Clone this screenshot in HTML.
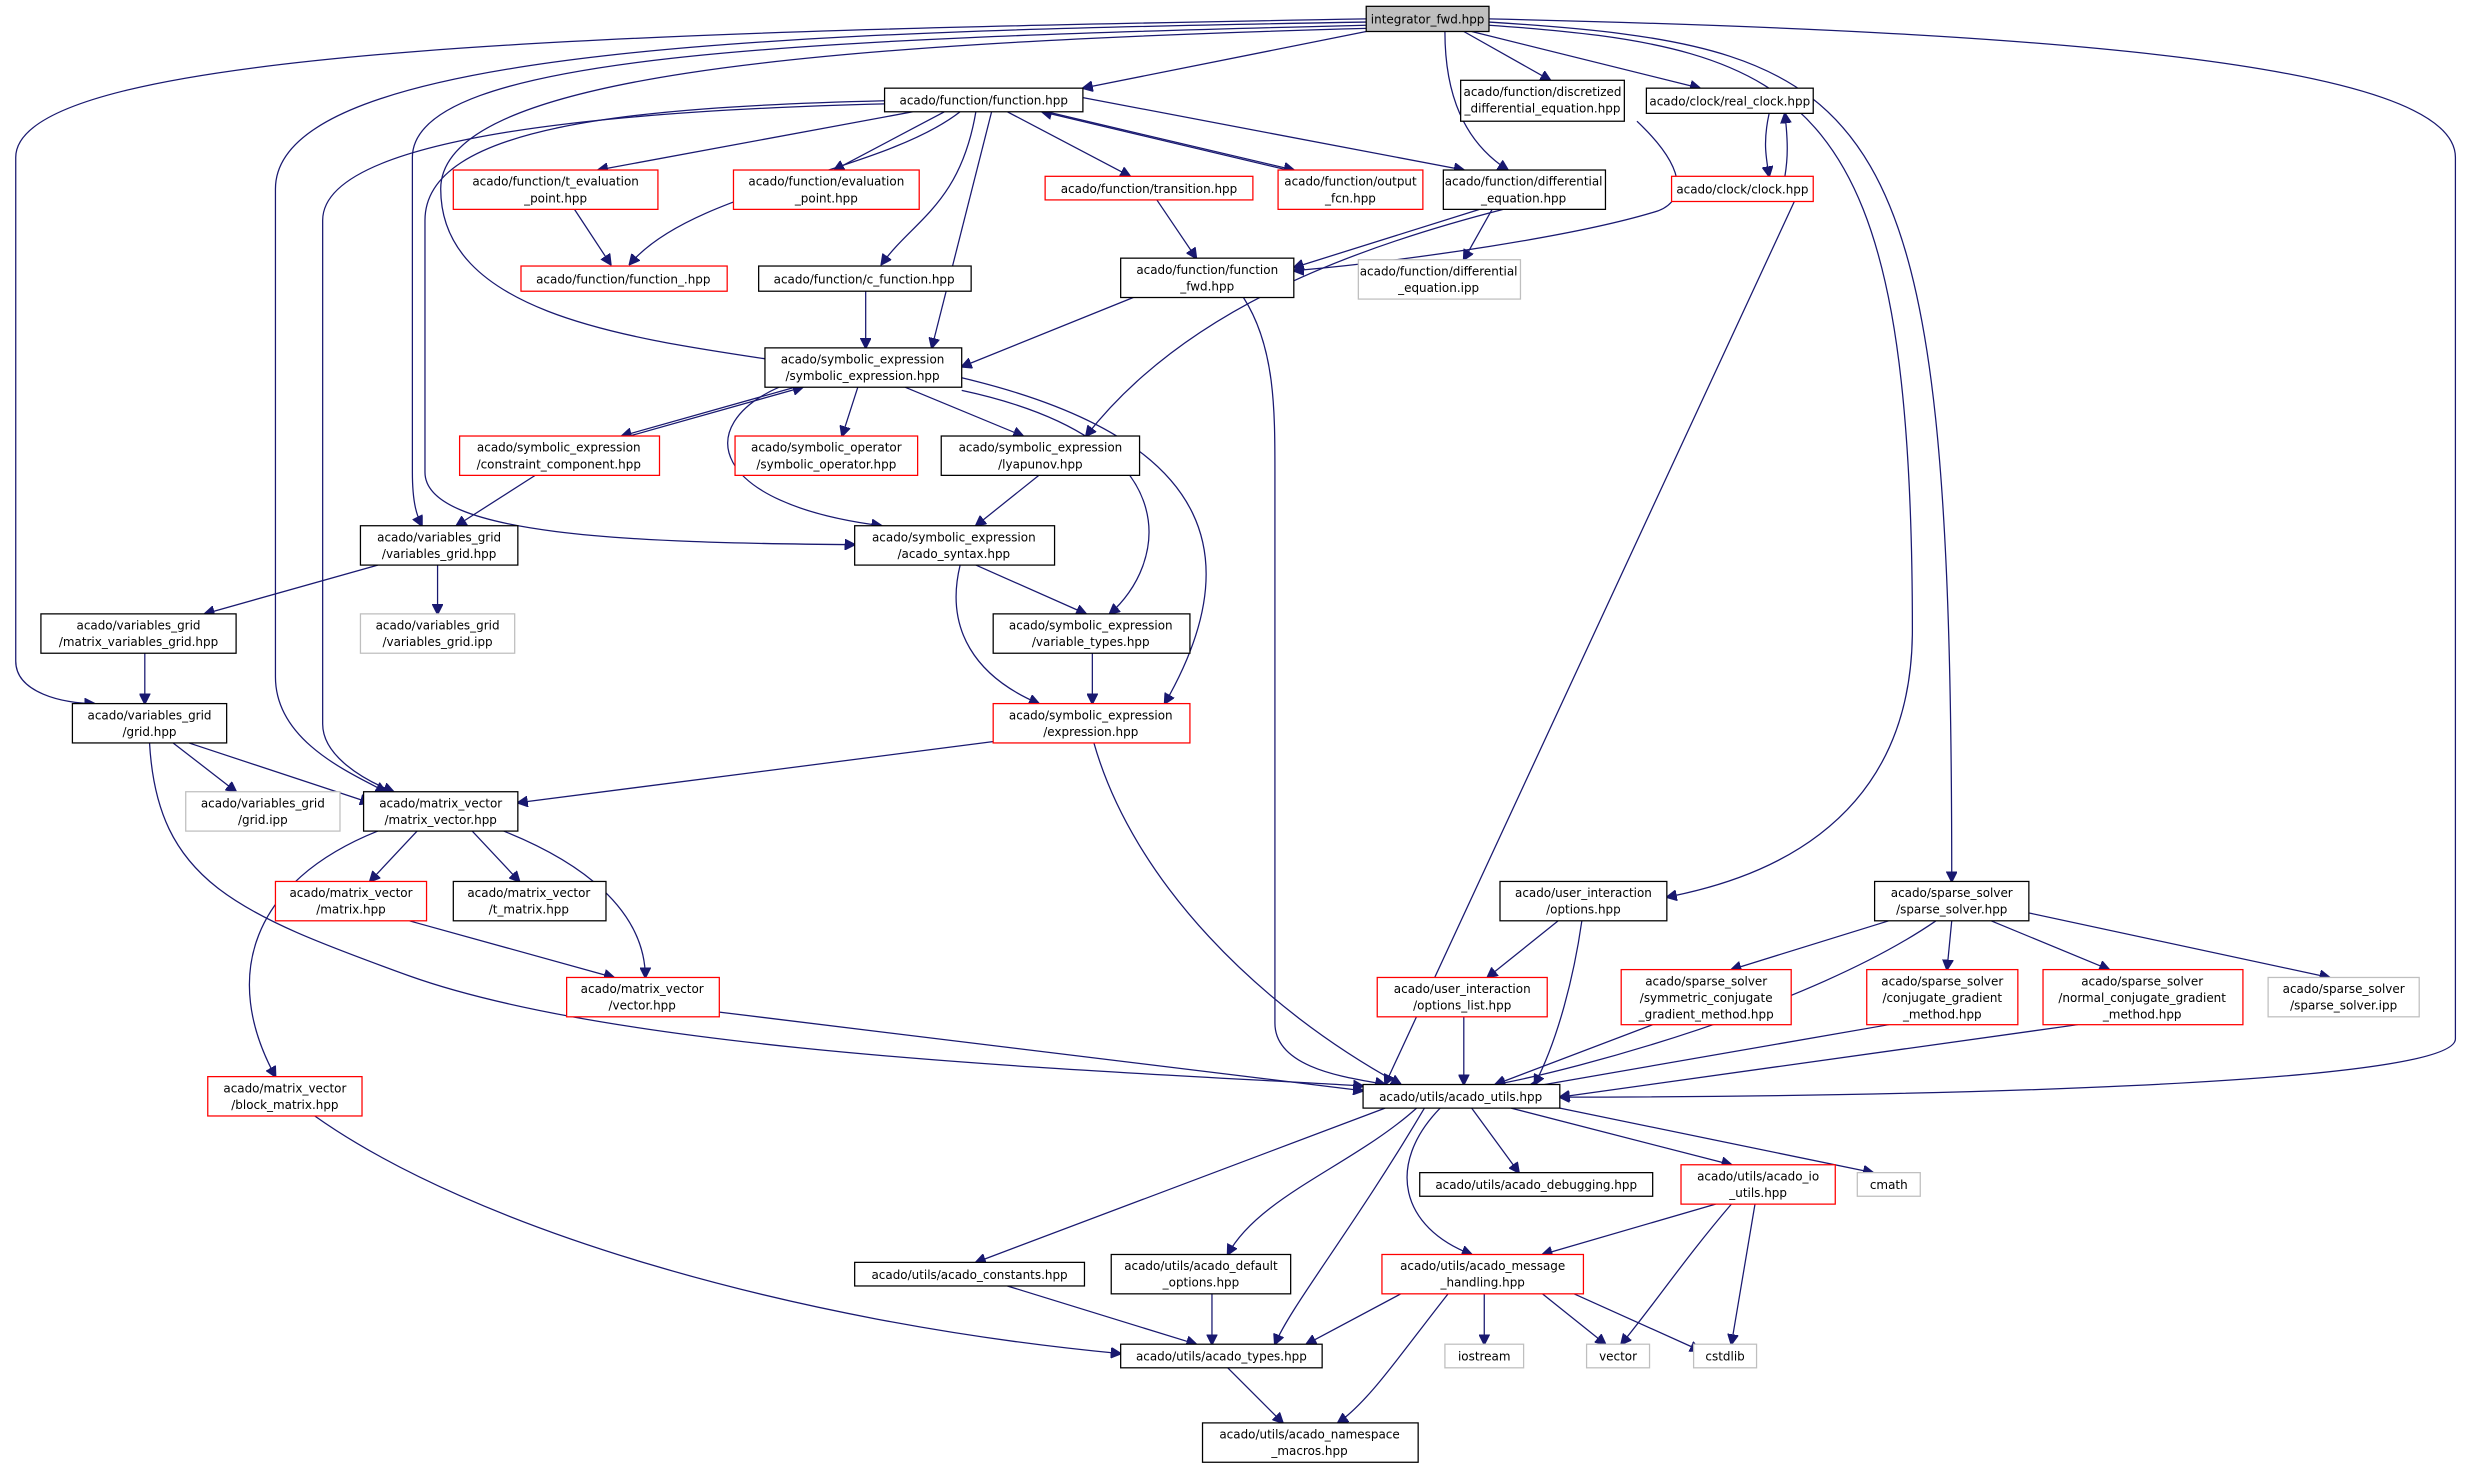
<!DOCTYPE html>
<html><head><meta charset="utf-8"><style>
html,body{margin:0;padding:0;background:#fff;}
svg{display:block}
text{font-family:"DejaVu Sans","Liberation Sans",sans-serif;font-size:7.6px;fill:#000;text-anchor:middle}
.b{fill:#fff;stroke:#000;stroke-width:0.8}
.r{fill:#fff;stroke:#ff0000;stroke-width:0.8}
.g{fill:#fff;stroke:#bfbfbf;stroke-width:0.8}
path{fill:none;stroke:#191970;stroke-width:0.8;marker-end:url(#a)}
</style></head><body>
<svg width="2468" height="1467" viewBox="0 0 1568 932" xmlns="http://www.w3.org/2000/svg">
<defs><marker id="a" viewBox="0 0 10 10" refX="9" refY="5" markerWidth="7" markerHeight="7" markerUnits="userSpaceOnUse" orient="auto"><path d="M0,0 L10,5 L0,10 z" style="fill:#191970;stroke:#191970;marker-end:none"/></marker></defs>

<!-- edges -->
<path d="M868,20 L688,56"/>
<path d="M930,20 L985,51"/>
<path d="M935,20 L1080,56"/>
<path d="M918,20 C918,60 930,90 958,108"/>
<path d="M946,14 C1200,30 1240,60 1240,560"/>
<path d="M946,16 C1150,30 1215,60 1215,400 C1215,530 1110,560 1059,570"/>
<path d="M946,12 C1300,20 1560,40 1560,100 L1560,660 C1560,690 1200,697 991,697"/>
<path d="M868,12 C400,20 10,30 10,100 L10,420 C10,440 40,447 60,447"/>
<path d="M868,14 C500,20 175,30 175,120 L175,430 C175,470 220,490 245,503"/>
<path d="M868,16 C500,25 262,35 262,100 L262,300 C262,320 265,328 268,334"/>
<path d="M868,18 C500,28 280,50 280,120 C280,200 400,215 500,230"/>
<path d="M562,64 C400,68 270,80 270,140 L270,300 C270,340 400,345 543,346"/>
<path d="M562,66 C400,70 205,85 205,140 L205,460 C205,480 230,495 250,503"/>
<path d="M580,71 L380,108"/>
<path d="M600,71 L530,108"/>
<path d="M610,71 C560,110 440,120 400,168"/>
<path d="M620,71 C610,130 580,140 560,168"/>
<path d="M630,71 L592,221"/>
<path d="M640,71 L718,112"/>
<path d="M665,71 L822,108"/>
<path d="M818,108 L662,71"/>
<path d="M688,62 L930,108"/>
<path d="M365,133 L388,168"/>
<path d="M735,127 L760,164"/>
<path d="M940,133 L822,170"/>
<path d="M955,133 C850,160 750,200 690,277"/>
<path d="M948,133 L930,165"/>
<path d="M1040,77 C1075,110 1070,130 1050,135 C1000,150 900,165 822,172"/>
<path d="M1124,72 C1120,90 1122,100 1124,112"/>
<path d="M1134,112 C1136,100 1136,90 1134,72"/>
<path d="M1140,128 L880,689"/>
<path d="M720,189 L611,233"/>
<path d="M790,189 C810,220 810,260 810,300 L810,650 C810,680 860,685 880,689"/>
<path d="M550,185 L550,221"/>
<path d="M505,246 L395,277"/>
<path d="M400,277 L510,246"/>
<path d="M545,246 L535,277"/>
<path d="M575,246 L650,277"/>
<path d="M495,246 C440,270 450,320 560,334"/>
<path d="M611,248 C760,280 740,360 705,390"/>
<path d="M611,240 C780,280 790,360 740,447"/>
<path d="M340,302 L290,334"/>
<path d="M660,302 L620,334"/>
<path d="M620,359 L690,390"/>
<path d="M610,359 C600,400 620,430 660,447"/>
<path d="M240,359 L130,390"/>
<path d="M278,359 L278,390"/>
<path d="M92,415 L92,447"/>
<path d="M694,415 L694,447"/>
<path d="M640,470 L329,510"/>
<path d="M695,472 C720,560 800,640 890,689"/>
<path d="M110,472 L150,503"/>
<path d="M120,472 L235,510"/>
<path d="M95,472 C100,560 150,580 260,620 C400,670 700,680 866,690"/>
<path d="M265,528 L235,560"/>
<path d="M300,528 L330,560"/>
<path d="M320,528 C400,560 410,600 410,621"/>
<path d="M240,528 C160,560 140,620 175,684"/>
<path d="M260,585 L390,621"/>
<path d="M457,643 L866,693"/>
<path d="M200,709 C300,780 500,840 712,860"/>
<path d="M990,585 L945,621"/>
<path d="M1005,585 C1000,620 990,660 975,689"/>
<path d="M930,646 L930,689"/>
<path d="M1200,585 L1100,616"/>
<path d="M1240,585 L1237,616"/>
<path d="M1265,585 L1340,616"/>
<path d="M1289,580 L1480,621"/>
<path d="M1230,585 C1150,640 1000,680 950,689"/>
<path d="M1050,651 L950,689"/>
<path d="M1200,651 L970,691"/>
<path d="M1320,651 L991,697"/>
<path d="M935,704 L965,745"/>
<path d="M960,704 L1100,740"/>
<path d="M991,704 L1190,745"/>
<path d="M880,704 L620,802"/>
<path d="M900,704 C860,740 800,760 780,797"/>
<path d="M915,704 C880,740 890,780 935,797"/>
<path d="M905,704 C860,780 820,830 810,854"/>
<path d="M1090,765 L980,797"/>
<path d="M1100,765 C1070,800 1050,830 1030,854"/>
<path d="M1115,765 L1100,854"/>
<path d="M640,817 L760,854"/>
<path d="M770,822 L770,854"/>
<path d="M890,822 L830,854"/>
<path d="M943,822 L943,854"/>
<path d="M980,822 L1020,854"/>
<path d="M1000,822 L1080,858"/>
<path d="M920,822 C890,860 870,890 850,904"/>
<path d="M780,869 L815,904"/>

<!-- nodes -->
<rect x="868" y="4" width="78" height="16" style="fill:#bfbfbf;stroke:#000;stroke-width:0.8"/><text x="907" y="15">integrator_fwd.hpp</text>
<rect class="b" x="562" y="56" width="126" height="15"/><text x="625" y="66.5">acado/function/function.hpp</text>
<rect class="b" x="928" y="51" width="104" height="26"/><text x="980" y="61">acado/function/discretized</text><text x="980" y="71.5">_differential_equation.hpp</text>
<rect class="b" x="1046" y="56" width="106" height="16"/><text x="1099" y="67">acado/clock/real_clock.hpp</text>
<rect class="r" x="1062" y="112" width="90" height="16"/><text x="1107" y="123">acado/clock/clock.hpp</text>
<rect class="r" x="288" y="108" width="130" height="25"/><text x="353" y="118">acado/function/t_evaluation</text><text x="353" y="128.5">_point.hpp</text>
<rect class="r" x="466" y="108" width="118" height="25"/><text x="525" y="118">acado/function/evaluation</text><text x="525" y="128.5">_point.hpp</text>
<rect class="r" x="664" y="112" width="132" height="15"/><text x="730" y="122.5">acado/function/transition.hpp</text>
<rect class="r" x="812" y="108" width="92" height="25"/><text x="858" y="118">acado/function/output</text><text x="858" y="128.5">_fcn.hpp</text>
<rect class="b" x="917" y="108" width="103" height="25"/><text x="968" y="118">acado/function/differential</text><text x="968" y="128.5">_equation.hpp</text>
<rect class="g" x="863" y="165" width="103" height="25"/><text x="914" y="175">acado/function/differential</text><text x="914" y="185.5">_equation.ipp</text>
<rect class="r" x="331" y="169" width="131" height="16"/><text x="396" y="180">acado/function/function_.hpp</text>
<rect class="b" x="482" y="169" width="135" height="16"/><text x="549" y="180">acado/function/c_function.hpp</text>
<rect class="b" x="712" y="164" width="110" height="25"/><text x="767" y="174">acado/function/function</text><text x="767" y="184.5">_fwd.hpp</text>
<rect class="b" x="486" y="221" width="125" height="25"/><text x="548" y="231">acado/symbolic_expression</text><text x="548" y="241.5">/symbolic_expression.hpp</text>
<rect class="r" x="292" y="277" width="127" height="25"/><text x="355" y="287">acado/symbolic_expression</text><text x="355" y="297.5">/constraint_component.hpp</text>
<rect class="r" x="467" y="277" width="116" height="25"/><text x="525" y="287">acado/symbolic_operator</text><text x="525" y="297.5">/symbolic_operator.hpp</text>
<rect class="b" x="598" y="277" width="126" height="25"/><text x="661" y="287">acado/symbolic_expression</text><text x="661" y="297.5">/lyapunov.hpp</text>
<rect class="b" x="229" y="334" width="100" height="25"/><text x="279" y="344">acado/variables_grid</text><text x="279" y="354.5">/variables_grid.hpp</text>
<rect class="b" x="543" y="334" width="127" height="25"/><text x="606" y="344">acado/symbolic_expression</text><text x="606" y="354.5">/acado_syntax.hpp</text>
<rect class="g" x="229" y="390" width="98" height="25"/><text x="278" y="400">acado/variables_grid</text><text x="278" y="410.5">/variables_grid.ipp</text>
<rect class="b" x="26" y="390" width="124" height="25"/><text x="88" y="400">acado/variables_grid</text><text x="88" y="410.5">/matrix_variables_grid.hpp</text>
<rect class="b" x="631" y="390" width="125" height="25"/><text x="693" y="400">acado/symbolic_expression</text><text x="693" y="410.5">/variable_types.hpp</text>
<rect class="b" x="46" y="447" width="98" height="25"/><text x="95" y="457">acado/variables_grid</text><text x="95" y="467.5">/grid.hpp</text>
<rect class="r" x="631" y="447" width="125" height="25"/><text x="693" y="457">acado/symbolic_expression</text><text x="693" y="467.5">/expression.hpp</text>
<rect class="g" x="118" y="503" width="98" height="25"/><text x="167" y="513">acado/variables_grid</text><text x="167" y="523.5">/grid.ipp</text>
<rect class="b" x="231" y="503" width="98" height="25"/><text x="280" y="513">acado/matrix_vector</text><text x="280" y="523.5">/matrix_vector.hpp</text>
<rect class="r" x="175" y="560" width="96" height="25"/><text x="223" y="570">acado/matrix_vector</text><text x="223" y="580.5">/matrix.hpp</text>
<rect class="b" x="288" y="560" width="97" height="25"/><text x="336" y="570">acado/matrix_vector</text><text x="336" y="580.5">/t_matrix.hpp</text>
<rect class="r" x="360" y="621" width="97" height="25"/><text x="408" y="631">acado/matrix_vector</text><text x="408" y="641.5">/vector.hpp</text>
<rect class="r" x="132" y="684" width="98" height="25"/><text x="181" y="694">acado/matrix_vector</text><text x="181" y="704.5">/block_matrix.hpp</text>
<rect class="b" x="953" y="560" width="106" height="25"/><text x="1006" y="570">acado/user_interaction</text><text x="1006" y="580.5">/options.hpp</text>
<rect class="r" x="875" y="621" width="108" height="25"/><text x="929" y="631">acado/user_interaction</text><text x="929" y="641.5">/options_list.hpp</text>
<rect class="b" x="1191" y="560" width="98" height="25"/><text x="1240" y="570">acado/sparse_solver</text><text x="1240" y="580.5">/sparse_solver.hpp</text>
<rect class="r" x="1030" y="616" width="108" height="35"/><text x="1084" y="626">acado/sparse_solver</text><text x="1084" y="636.5">/symmetric_conjugate</text><text x="1084" y="647">_gradient_method.hpp</text>
<rect class="r" x="1186" y="616" width="96" height="35"/><text x="1234" y="626">acado/sparse_solver</text><text x="1234" y="636.5">/conjugate_gradient</text><text x="1234" y="647">_method.hpp</text>
<rect class="r" x="1298" y="616" width="127" height="35"/><text x="1361" y="626">acado/sparse_solver</text><text x="1361" y="636.5">/normal_conjugate_gradient</text><text x="1361" y="647">_method.hpp</text>
<rect class="g" x="1441" y="621" width="96" height="25"/><text x="1489" y="631">acado/sparse_solver</text><text x="1489" y="641.5">/sparse_solver.ipp</text>
<rect class="b" x="866" y="689" width="125" height="15"/><text x="928" y="699.5">acado/utils/acado_utils.hpp</text>
<rect class="b" x="902" y="745" width="148" height="15"/><text x="976" y="755.5">acado/utils/acado_debugging.hpp</text>
<rect class="r" x="1068" y="740" width="98" height="25"/><text x="1117" y="750">acado/utils/acado_io</text><text x="1117" y="760.5">_utils.hpp</text>
<rect class="g" x="1180" y="745" width="40" height="15"/><text x="1200" y="755.5">cmath</text>
<rect class="b" x="543" y="802" width="146" height="15"/><text x="616" y="812.5">acado/utils/acado_constants.hpp</text>
<rect class="b" x="706" y="797" width="114" height="25"/><text x="763" y="807">acado/utils/acado_default</text><text x="763" y="817.5">_options.hpp</text>
<rect class="r" x="878" y="797" width="128" height="25"/><text x="942" y="807">acado/utils/acado_message</text><text x="942" y="817.5">_handling.hpp</text>
<rect class="b" x="712" y="854" width="128" height="15"/><text x="776" y="864.5">acado/utils/acado_types.hpp</text>
<rect class="g" x="918" y="854" width="50" height="15"/><text x="943" y="864.5">iostream</text>
<rect class="g" x="1008" y="854" width="40" height="15"/><text x="1028" y="864.5">vector</text>
<rect class="g" x="1076" y="854" width="40" height="15"/><text x="1096" y="864.5">cstdlib</text>
<rect class="b" x="764" y="904" width="137" height="25"/><text x="832" y="914">acado/utils/acado_namespace</text><text x="832" y="924.5">_macros.hpp</text>
</svg>
</body></html>
